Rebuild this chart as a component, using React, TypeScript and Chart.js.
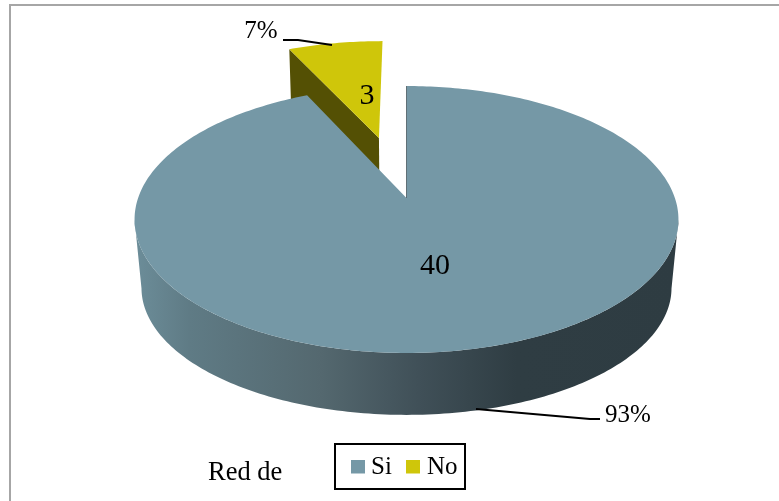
import React, { useEffect, useRef } from "react";
import { Chart, registerables } from "chart.js";

Chart.register(...registerables);

const categories = ["Si", "No"];
const counts = [40, 3];
const sliceColors = ["#7598a6", "#cfc60a"];
const cutFaceColors = ["#3a4a50", "#545004"];
// Distance each slice is pulled out from the centre, as a share of the radius.
const sliceExplode = [0, 0.51];

const FONT = '"Liberation Serif", "Times New Roman", serif';
const WIDTH = 779;
const HEIGHT = 501;

// Perspective of the pie disc: (u, v) on the unit circle, h = 0 top face, h = 1 bottom face.
const view = { cx: 406.5, cy: 198, a: 268.4, b: 130, flatten: 14.3, d: 71.8, k: 0.161, m: 0.0255 };

function project(u: number, v: number, h: number): [number, number] {
  const w = 1 - view.k * v + view.m * h;
  return [view.cx + (view.a * u) / w, view.cy + ((view.b - view.flatten * h) * v + view.d * h) / w];
}

function arcPoints(start: number, end: number, ox: number, oy: number, h: number) {
  const steps = Math.max(2, Math.ceil((end - start) / (Math.PI / 180)));
  const pts: [number, number][] = [];
  for (let i = 0; i <= steps; i++) {
    const t = start + ((end - start) * i) / steps;
    pts.push(project(ox + Math.cos(t), oy + Math.sin(t), h));
  }
  return pts;
}

function tracePolygon(ctx: CanvasRenderingContext2D, pts: [number, number][]) {
  ctx.beginPath();
  pts.forEach((p, i) => (i ? ctx.lineTo(p[0], p[1]) : ctx.moveTo(p[0], p[1])));
  ctx.closePath();
}

function wallGradient(ctx: CanvasRenderingContext2D) {
  const g = ctx.createLinearGradient(135, 0, 680, 0);
  g.addColorStop(0, "#6c8d99");
  g.addColorStop(0.1, "#5f7b85");
  g.addColorStop(0.34, "#54686f");
  g.addColorStop(0.52, "#405058");
  g.addColorStop(0.7, "#2f3d43");
  g.addColorStop(1, "#2e3c42");
  return g;
}

// Draws the slices as an extruded disc, using the angles Chart.js computed for each arc.
const discPlugin = {
  id: "disc",
  beforeDatasetDraw(chart: any, args: any) {
    const ctx: CanvasRenderingContext2D = chart.ctx;
    const arcs = args.meta.data;
    ctx.save();
    for (let i = arcs.length - 1; i >= 0; i--) {
      const { startAngle, endAngle } = arcs[i];
      const mid = (startAngle + endAngle) / 2;
      const ox = Math.cos(mid) * sliceExplode[i];
      const oy = Math.sin(mid) * sliceExplode[i];

      if (sliceExplode[i] > 0) {
        // Cut face on the side turned towards the viewer.
        const cx = ox + Math.cos(startAngle);
        const cy = oy + Math.sin(startAngle);
        tracePolygon(ctx, [project(ox, oy, 0), project(cx, cy, 0), project(cx, cy, 1), project(ox, oy, 1)]);
        ctx.fillStyle = cutFaceColors[i];
        ctx.fill();
      } else {
        // Rim of the large slice, between the widest points of the disc on each side.
        const frontStart = Math.asin(view.k);
        const frontEnd = Math.PI - frontStart;
        const top = arcPoints(frontStart, frontEnd, ox, oy, 0);
        const bottom = arcPoints(frontStart, frontEnd, ox, oy, 1).reverse();
        tracePolygon(ctx, [...top, ...bottom]);
        ctx.fillStyle = wallGradient(ctx);
        ctx.fill();
      }

      tracePolygon(ctx, [project(ox, oy, 0), ...arcPoints(startAngle, endAngle, ox, oy, 0)]);
      ctx.fillStyle = arcs[i].options.backgroundColor;
      ctx.fill();

      if (sliceExplode[i] === 0) {
        // Thin sliver of the cut face seen along the opening edge.
        const a = project(ox, oy, 0);
        const b = project(ox + Math.cos(startAngle), oy + Math.sin(startAngle), 0);
        ctx.beginPath();
        ctx.moveTo(a[0], a[1]);
        ctx.lineTo(b[0], b[1]);
        ctx.strokeStyle = "rgba(58,74,80,0.7)";
        ctx.lineWidth = 1;
        ctx.stroke();
      }
    }
    ctx.restore();
    return false;
  },
};

// Value labels, percentage callouts, legend frame, side caption and outer border.
const annotationPlugin = {
  id: "annotations",
  afterDraw(chart: any) {
    const ctx: CanvasRenderingContext2D = chart.ctx;
    const values: number[] = chart.data.datasets[0].data;
    const total = values.reduce((s, x) => s + x, 0);
    const percent = values.map((x) => `${Math.round((x / total) * 100)}%`);

    ctx.save();
    ctx.fillStyle = "#000";
    ctx.textAlign = "center";
    ctx.textBaseline = "alphabetic";

    ctx.font = `30px ${FONT}`;
    ctx.fillText(String(values[0]), 435, 274);
    ctx.fillText(String(values[1]), 367, 104);

    ctx.font = `25px ${FONT}`;
    ctx.fillText(percent[0], 628, 422);
    ctx.fillText(percent[1], 261, 38);

    ctx.strokeStyle = "#000";
    ctx.lineWidth = 1.8;
    ctx.beginPath();
    ctx.moveTo(476, 409);
    ctx.lineTo(590, 419);
    ctx.lineTo(600, 419);
    ctx.moveTo(283, 40);
    ctx.lineTo(298, 40);
    ctx.lineTo(332, 45);
    ctx.stroke();

    ctx.lineWidth = 2;
    ctx.strokeRect(335, 444, 130, 45);

    ctx.textAlign = "left";
    ctx.font = `26.5px ${FONT}`;
    ctx.fillText("Red de", 208, 480);

    ctx.strokeStyle = "#a6a6a6";
    ctx.lineWidth = 2;
    ctx.beginPath();
    ctx.moveTo(10, HEIGHT);
    ctx.lineTo(10, 5);
    ctx.lineTo(WIDTH, 5);
    ctx.stroke();
    ctx.restore();
  },
};

// Legend key: a 14px square sitting 1px above the text's optical centre.
function swatch(color: string) {
  const c = document.createElement("canvas");
  c.width = 14;
  c.height = 16;
  const g = c.getContext("2d")!;
  g.fillStyle = color;
  g.fillRect(0, 0, 14, 14);
  return c;
}

export default function App() {
  const ref = useRef<HTMLCanvasElement>(null);

  useEffect(() => {
    const chart = new Chart(ref.current!, {
      type: "pie",
      data: {
        labels: categories,
        datasets: [{ data: counts, backgroundColor: sliceColors, borderWidth: 0 }],
      },
      options: {
        responsive: false,
        animation: false,
        layout: { padding: { left: 35, bottom: 11 } },
        plugins: {
          tooltip: { enabled: false },
          legend: {
            position: "bottom",
            labels: {
              usePointStyle: true,
              boxWidth: 2,
              padding: 20.5,
              color: "#000",
              font: { family: FONT, size: 25 },
              generateLabels: (c: any) =>
                c.data.labels.map((text: string, i: number) => ({
                  text,
                  index: i,
                  fontColor: "#000",
                  pointStyle: swatch(sliceColors[i]),
                  lineWidth: 0,
                })),
            },
          },
        },
      },
      plugins: [discPlugin, annotationPlugin],
    } as any);
    return () => chart.destroy();
  }, []);

  return (
    <div style={{ position: "fixed", left: 0, top: 0, background: "#fff" }}>
      <canvas ref={ref} width={WIDTH} height={HEIGHT} style={{ display: "block" }} />
    </div>
  );
}
